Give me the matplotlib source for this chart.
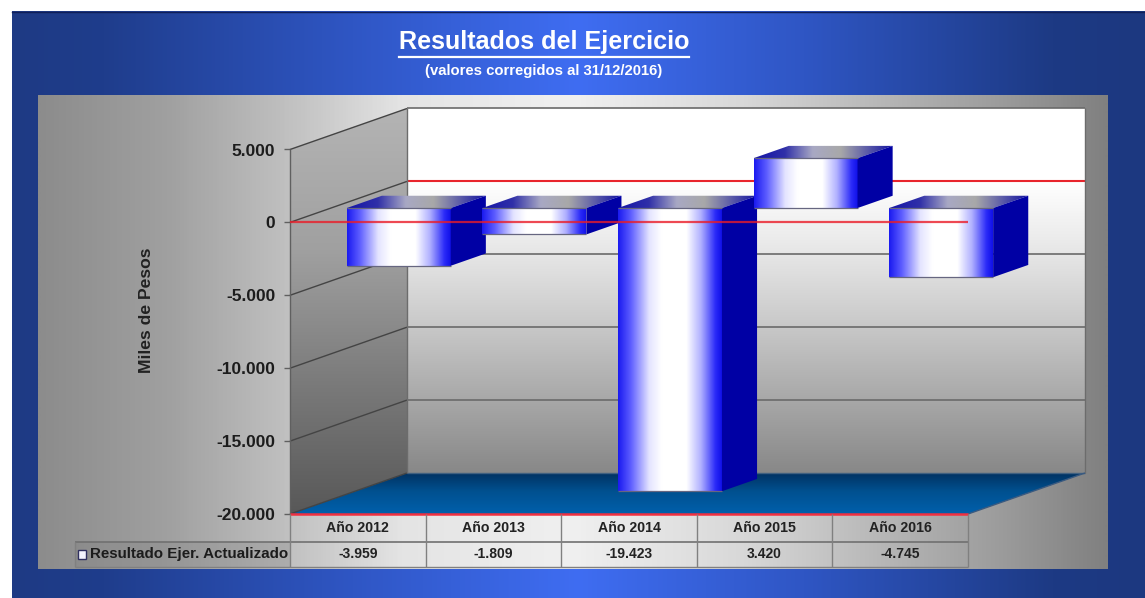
import numpy as np
import matplotlib
matplotlib.use("Agg")
import matplotlib.pyplot as plt
from matplotlib.colors import LinearSegmentedColormap, to_rgb
from matplotlib.patches import Polygon
from matplotlib.lines import Line2D

# ---- data ----
years = ["Año 2012", "Año 2013", "Año 2014", "Año 2015", "Año 2016"]
values = [-3959, -1809, -19423, 3420, -4745]
y_ticks = [5000, 0, -5000, -10000, -15000, -20000]
series_name = "Resultado Ejer. Actualizado"
title = "Resultados del Ejercicio"
subtitle = "(valores corregidos al 31/12/2016)"
y_label = "Miles de Pesos"

# ---- layout ----
W, H = 1145, 598
FONT = "Liberation Sans"
X0, X1, Y_TOP, Y_BOT = 290, 968, 149.5, 514
YMIN, YMAX = -20000, 5000
PX_X = len(years) / (X1 - X0)              # categories per pixel
PX_Y = (YMAX - YMIN) / (Y_BOT - Y_TOP)     # value units per pixel
DX, DY = 117 * PX_X, 41 * PX_Y             # full depth of the 3D box
BAR_W = 104 * PX_X
BAR_Z0, BAR_Z1 = 0.35, 0.65                # bar depth range


def fmt(v):
    return f"{v:,.0f}".replace(",", ".")


fig = plt.figure(figsize=(W / 100, H / 100), dpi=100, facecolor="white")

# ---- background chrome in pixel coordinates ----
bg = fig.add_axes([0, 0, 1, 1])
bg.set_xlim(0, W)
bg.set_ylim(H, 0)
bg.axis("off")


def hgrad(ax, x0, x1, y0, y1, stops, z):
    cm = LinearSegmentedColormap.from_list("g", [(p, c) for p, c in stops])
    ax.imshow(np.linspace(0, 1, 512)[None, :], cmap=cm, vmin=0, vmax=1,
              extent=(x0, x1, y1, y0), aspect="auto", zorder=z, interpolation="bilinear")


hgrad(bg, 12, W, 11, H,
      [(0, "#1e3a84"), (0.08, "#1f3d8c"), (0.3, "#2f56c4"), (0.5, "#3f6df2"),
       (0.7, "#2f56c4"), (0.92, "#1d3a84"), (1, "#1c3880")], 1)
bg.add_line(Line2D([12, W], [11.5, 11.5], color="#101f58", lw=1, zorder=2))
hgrad(bg, 38, 1108, 95, 569,
      [(0, "#8c8c8c"), (0.12, "#a0a0a0"), (0.245, "#c4c4c4"), (0.34, "#e4e4e4"),
       (0.5, "#f0f0f0"), (0.66, "#d8d8d8"), (0.8, "#b4b4b4"), (0.9, "#9c9c9c"), (1, "#808080")], 3)
bg.set_xlim(0, W)
bg.set_ylim(H, 0)

bg.text(544, 42, title, color="white", fontsize=18.1, fontweight="bold",
        family=FONT, ha="center", va="center", zorder=5)
bg.add_line(Line2D([399, 689], [57, 57], color="white", lw=1.6, zorder=5))
bg.text(544, 70.5, subtitle, color="white", fontsize=10.7, fontweight="bold",
        family=FONT, ha="center", va="center", zorder=5)

# ---- chart axes: the front plane of the 3D box ----
ax = fig.add_axes([X0 / W, 1 - Y_BOT / H, (X1 - X0) / W, (Y_BOT - Y_TOP) / H])
ax.patch.set_alpha(0)
for s in ax.spines.values():
    s.set_visible(False)
n = len(years)


def grad_poly(verts, stops, vertical=False, z=1):
    """Polygon in data coordinates filled by a linear gradient."""
    verts = np.asarray(verts, float)
    cm = LinearSegmentedColormap.from_list("g", [(p, to_rgb(c)) for p, c in stops])
    g = np.linspace(0, 1, 256)
    arr = g[:, None] if vertical else g[None, :]
    xa, xb = verts[:, 0].min(), verts[:, 0].max()
    ya, yb = verts[:, 1].min(), verts[:, 1].max()
    im = ax.imshow(arr, cmap=cm, vmin=0, vmax=1, extent=(xa, xb, ya, yb),
                   origin="upper", aspect="auto", zorder=z, interpolation="bilinear")
    clip = Polygon(verts, closed=True, transform=ax.transData, fc="none", ec="none")
    im.set_clip_box(fig.bbox)
    im.set_clip_path(clip)
    return im


def seg(xs, ys, color, lw=1.0, z=3, alpha=1.0):
    ax.plot(xs, ys, color=color, lw=lw, zorder=z, alpha=alpha, clip_on=False,
            solid_capstyle="butt")


# walls and floor
grad_poly([(DX, YMIN + DY), (n + DX, YMIN + DY), (n + DX, YMAX + DY), (DX, YMAX + DY)],
          [(0, "#ffffff"), (0.2, "#ffffff"), (0.4, "#e6e6e6"), (0.6, "#c8c8c8"),
           (0.8, "#a8a8a8"), (1, "#888888")], vertical=True, z=1)
grad_poly([(0, YMIN), (DX, YMIN + DY), (DX, YMAX + DY), (0, YMAX)],
          [(0, "#b4b4b4"), (0.35, "#a0a0a0"), (0.7, "#787878"), (1, "#585858")],
          vertical=True, z=1)
grad_poly([(0, YMIN), (n, YMIN), (n + DX, YMIN + DY), (DX, YMIN + DY)],
          [(0, "#00305f"), (0.45, "#00508f"), (1, "#0060ac")], vertical=True, z=2)

# gridlines
GRID = "#6a6a6a"
for v in y_ticks:
    seg([0, DX], [v, v + DY], "#444444", 1.0, z=3)
    if v == 0:
        seg([DX, n + DX], [v + DY, v + DY], "#e8242c", 1.5, z=3)
    elif v != YMIN:
        seg([DX, n + DX], [v + DY, v + DY], GRID, 1.2, z=3)
    else:
        seg([DX, n + DX], [v + DY, v + DY], "#406080", 1.0, z=3)
seg([0, 0], [YMIN, YMAX], "#606060", 1.0, z=3)
seg([DX, DX], [YMIN + DY, YMAX + DY], "#6c6c6c", 1.0, z=3)
seg([n + DX, n + DX], [YMIN + DY, YMAX + DY], "#6c6c6c", 1.0, z=3)
seg([n, n + DX], [YMIN, YMIN + DY], "#3a5a80", 1.0, z=3)

# bars
FRONT = [(0, "#1a1af0"), (0.12, "#5c5cff"), (0.3, "#e4e4ff"), (0.42, "#ffffff"),
         (0.66, "#ffffff"), (0.8, "#b0b0ff"), (0.94, "#2a2af8"), (1, "#1010e8")]
TOP = [(0, "#1414a8"), (0.22, "#3030a8"), (0.42, "#a8a8c4"), (0.62, "#a8a8a8"),
       (0.82, "#5858a8"), (1, "#1010a0")]
SIDE = "#0000a4"
for i, v in enumerate(values):
    z = 5 + i * 0.1
    lo, hi = min(v, 0), max(v, 0)
    xl = i + 0.5 - BAR_W / 2 + BAR_Z0 * DX
    xr = xl + BAR_W
    ylo, yhi = lo + BAR_Z0 * DY, hi + BAR_Z0 * DY
    ddx, ddy = (BAR_Z1 - BAR_Z0) * DX, (BAR_Z1 - BAR_Z0) * DY
    grad_poly([(xl, ylo), (xr, ylo), (xr, yhi), (xl, yhi)], FRONT, z=z)
    grad_poly([(xl, yhi), (xr, yhi), (xr + ddx, yhi + ddy), (xl + ddx, yhi + ddy)], TOP, z=z)
    ax.add_patch(Polygon([(xr, ylo), (xr + ddx, ylo + ddy), (xr + ddx, yhi + ddy), (xr, yhi)],
                         closed=True, fc=SIDE, ec="none", zorder=z, clip_on=False))
    seg([xl, xr], [yhi, yhi], "#666680", 0.9, z=z + 0.01)
    seg([xl, xr], [ylo, ylo], "#666680", 0.9, z=z + 0.01)

# front zero line and floor edge
seg([0, n], [0, 0], "#ea1c28", 1.6, z=7, alpha=0.8)
seg([0, n], [YMIN, YMIN], "#f03040", 1.8, z=7)

ax.set_xlim(0, n)
ax.set_ylim(YMIN, YMAX)
ax.set_xticks([])
ax.set_yticks(y_ticks)
ax.set_yticklabels([fmt(v) for v in y_ticks], family=FONT, fontweight="bold",
                   fontsize=12.5, color="#1c1c1c")
ax.tick_params(axis="y", length=4, width=1, color="#606060", pad=6.5)
ax.text(-143 * PX_X * 1.0, -6000, y_label, rotation=90, family=FONT, fontweight="bold",
        fontsize=12.6, color="#222222", ha="center", va="center", clip_on=False)

# data table under the chart
R1 = YMIN - 27.5 * PX_Y
R2 = YMIN - 53 * PX_Y
LEFT = -215 * PX_X
TXT = dict(family=FONT, fontweight="bold", color="#222222", ha="center", va="center", zorder=9)
seg([LEFT, n], [R1, R1], "#707070", 1.2, z=8)
seg([LEFT, n], [R2, R2], "#808080", 1.0, z=8)
seg([LEFT, LEFT], [R1, R2], "#808080", 1.0, z=8)
for k in range(n + 1):
    seg([k, k], [YMIN, R2], "#808080", 1.0, z=8)
ax.add_patch(Polygon([(LEFT, R1), (0, R1), (0, R2), (LEFT, R2)], closed=True, fc="#808080",
                     alpha=0.3, ec="none", zorder=7.5, clip_on=False))
for i, (lab, v) in enumerate(zip(years, values)):
    ax.text(i + 0.5, (YMIN + R1) / 2, lab, fontsize=10.2, clip_on=False, **TXT)
    ax.text(i + 0.5, (R1 + R2) / 2, fmt(v), fontsize=10, clip_on=False, **TXT)
ax.text(-200 * PX_X, (R1 + R2) / 2, series_name, fontsize=10.9, clip_on=False,
        **{**TXT, "ha": "left", "color": "#1c1c1c"})
ax.add_patch(Polygon([(-212 * PX_X, R1 - 8 * PX_Y), (-204 * PX_X, R1 - 8 * PX_Y),
                      (-204 * PX_X, R1 - 17 * PX_Y), (-212 * PX_X, R1 - 17 * PX_Y)],
                     closed=True, fc="#f4f4ff", ec="#303060", lw=1, zorder=9, clip_on=False))

fig.savefig("out.png", dpi=100)
